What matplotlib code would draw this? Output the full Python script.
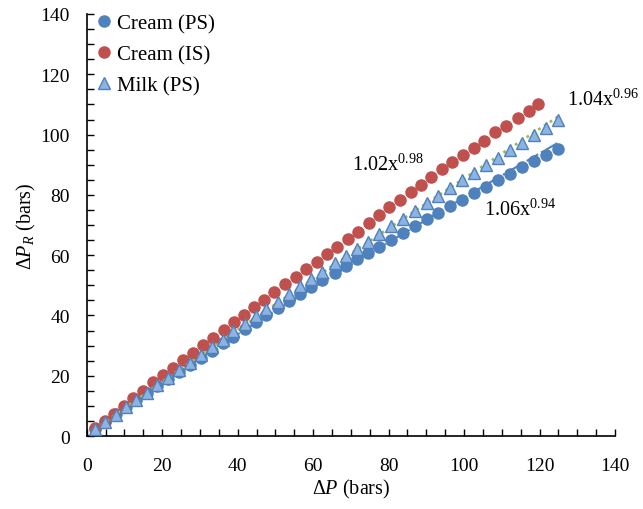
import numpy as np
import matplotlib
matplotlib.use('Agg')
import matplotlib.pyplot as plt
from matplotlib.ticker import MultipleLocator

# global parameters
plt.rcParams['font.family'] = ['Liberation Serif', 'DejaVu Serif']
plt.rcParams['mathtext.fontset'] = 'custom'
plt.rcParams['mathtext.rm'] = 'Liberation Serif'
plt.rcParams['mathtext.it'] = 'Liberation Serif:italic'
blue = '#4f81bd'
red = '#c0504d'
tri_fill = '#8db3e2'
green = '#9bbb59'

# data
cream_is_dp = [2.2, 4.8, 7.3, 9.8, 12.4, 15.0, 17.5, 20.1, 22.8, 25.5, 28.2, 30.9, 33.6, 36.4,
               39.0, 41.6, 44.3, 47.0, 49.6, 52.5, 55.4, 58.2, 61.0, 63.7, 66.3, 69.2, 71.9, 74.8,
               77.4, 80.2, 83.1, 86.0, 88.6, 91.3, 94.2, 96.8, 99.6, 102.5, 105.4, 108.3, 111.1,
               114.2, 117.1, 119.7]
cream_is_dpr = [2.7, 5.1, 7.4, 10.1, 12.6, 15.1, 17.8, 20.1, 22.6, 25.2, 27.6, 30.2, 32.6, 35.1,
                37.7, 40.0, 42.7, 45.2, 47.7, 50.4, 52.8, 55.3, 57.8, 60.4, 62.7, 65.2, 67.7, 70.7,
                73.4, 75.9, 78.4, 80.9, 83.4, 85.8, 88.6, 90.8, 93.2, 95.4, 97.9, 100.7, 102.9,
                105.4, 107.9, 110.3]

ps_dp = [2.3, 4.9, 7.8, 10.5, 13.2, 15.9, 18.7, 21.6, 24.4, 27.3, 30.2, 33.1, 36.0,
         38.8, 41.9, 44.8, 47.6, 50.7, 53.6, 56.4, 59.5, 62.4, 65.7, 68.6, 71.6, 74.5, 77.4,
         80.6, 83.8, 86.9, 90.1, 93.2, 96.4, 99.5, 102.7, 105.9, 109.0, 112.2, 115.3, 118.5,
         121.7, 124.8]
cream_ps_dpr = [2.4, 4.7, 7.2, 9.6, 12.0, 14.3, 16.6, 19.0, 21.3, 23.6, 26.0, 28.3, 30.7,
                33.0, 35.5, 37.8, 40.0, 42.5, 44.8, 47.0, 49.4, 51.6, 54.1, 56.3, 58.6, 60.8, 62.8,
                65.1, 67.4, 69.6, 71.9, 74.0, 76.2, 78.4, 80.5, 82.7, 84.9, 87.0, 89.1, 91.2,
                93.3, 95.3]
milk_ps_dpr = [2.3, 4.6, 7.0, 9.5, 11.9, 14.3, 16.8, 19.3, 21.8, 24.3, 26.8, 29.4, 32.0,
               34.9, 37.2, 39.7, 42.1, 44.6, 47.1, 49.9, 52.1, 54.5, 57.4, 59.8, 62.0, 64.5, 67.0,
               69.6, 72.1, 74.6, 77.2, 79.7, 82.3, 84.8, 87.3, 89.8, 92.3, 94.8, 97.2, 99.8,
               102.2, 104.8]

fit_labels = ['1.06x$^{0.94}$', '1.02x$^{0.98}$', '1.04x$^{0.96}$']


def power_fit(x, y):
    # trendline y = a*x^b fitted in log space
    x = np.asarray(x)
    b, log_a = np.polyfit(np.log(x), np.log(y), 1)
    xs = np.linspace(x.min(), x.max(), 200)
    return xs, np.exp(log_a) * xs ** b


fig = plt.figure(figsize=(6.43, 5.10), dpi=100)
ax = fig.add_axes([0.1348, 0.1431, 0.8217, 0.8275])

# trendlines
xs, ys = power_fit(ps_dp, cream_ps_dpr)
ax.plot(xs, ys, color=blue, linestyle='-.', linewidth=1.5, zorder=2)
xs, ys = power_fit(ps_dp, milk_ps_dpr)
ax.plot(xs, ys, color=green, linestyle=(0, (1, 1.5)), linewidth=2, zorder=4)

# data points
ax.plot(ps_dp, cream_ps_dpr, linestyle='none', marker='o', markersize=8,
        color=blue, markeredgecolor=blue, label='Cream (PS)', zorder=3)
ax.plot(cream_is_dp, cream_is_dpr, linestyle='none', marker='o', markersize=8,
        color=red, markeredgecolor=red, label='Cream (IS)', zorder=3)
ax.plot(ps_dp, milk_ps_dpr, linestyle='none', marker='^', markersize=8.5,
        markerfacecolor=tri_fill, markeredgecolor=blue, markeredgewidth=1,
        label='Milk (PS)', zorder=5)

# fit labels
ax.text(105.4, 75.3, fit_labels[0], fontsize=14.5, va='center', ha='left')
ax.text(70.2, 90.2, fit_labels[1], fontsize=14.5, va='center', ha='left')
ax.text(127.3, 111.8, fit_labels[2], fontsize=14.5, va='center', ha='left')

# axes
ax.set_xlim(0, 140)
ax.set_ylim(0, 140)
ax.xaxis.set_major_locator(MultipleLocator(20))
ax.yaxis.set_major_locator(MultipleLocator(20))
ax.xaxis.set_minor_locator(MultipleLocator(5))
ax.yaxis.set_minor_locator(MultipleLocator(5))
ax.tick_params(which='both', direction='in', width=1, labelsize=14, color='black')
ax.tick_params(which='both', length=5)
ax.tick_params(axis='x', pad=15)
ax.tick_params(axis='y', pad=12)
for side in ['top', 'right']:
    ax.spines[side].set_visible(False)
for side in ['left', 'bottom']:
    ax.spines[side].set_linewidth(1.2)

ax.set_xlabel(r'$\Delta P$ (bars)', fontsize=14.5, labelpad=2)
ax.set_ylabel(r'$\Delta P_R$ (bars)', fontsize=14.5, labelpad=2)

ax.legend(loc='upper left', bbox_to_anchor=(-0.01, 1.035), frameon=False, fontsize=15,
          numpoints=1, handlelength=0.8, handletextpad=0.2, labelspacing=0.55,
          borderaxespad=0.3)

fig.savefig('out.png', dpi=100)
